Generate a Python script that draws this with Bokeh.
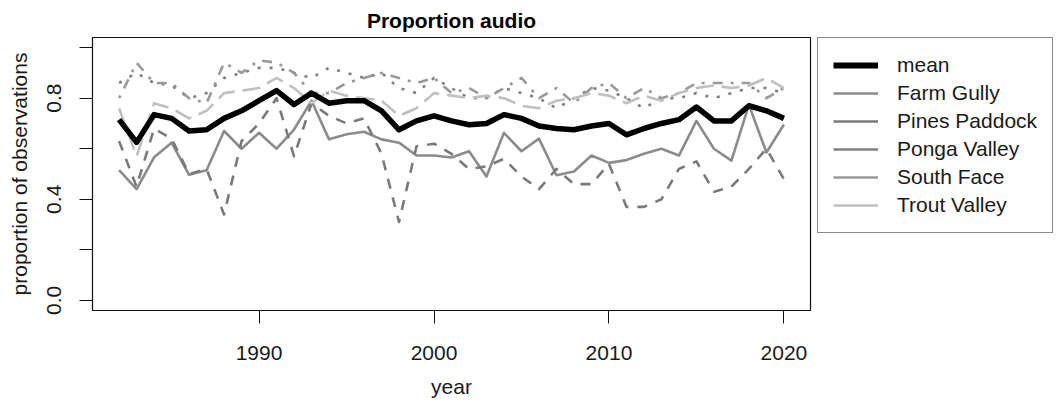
from bokeh.plotting import figure
from bokeh.layouts import row
from bokeh.models import Range1d, FixedTicker, Legend, LegendItem
from bokeh.embed import file_html
from bokeh.resources import INLINE

years = list(range(1982, 2021))

mean = [0.715, 0.625, 0.735, 0.72, 0.67, 0.675, 0.72, 0.75, 0.79, 0.83,
        0.775, 0.82, 0.78, 0.79, 0.79, 0.75, 0.675, 0.71, 0.73, 0.71,
        0.695, 0.70, 0.735, 0.72, 0.69, 0.68, 0.675, 0.69, 0.70, 0.655,
        0.68, 0.70, 0.715, 0.765, 0.71, 0.71, 0.77, 0.75, 0.72]

farm_gully = [0.515, 0.44, 0.566, 0.624, 0.497, 0.515, 0.67, 0.60, 0.663, 0.60,
              0.676, 0.79, 0.637, 0.657, 0.667, 0.637, 0.624, 0.573, 0.573, 0.565,
              0.59, 0.49, 0.663, 0.59, 0.64, 0.495, 0.51, 0.573, 0.544, 0.555,
              0.58, 0.60, 0.573, 0.71, 0.60, 0.553, 0.774, 0.585, 0.696]

pines_paddock = [0.63, 0.45, 0.68, 0.64, 0.50, 0.52, 0.34, 0.63, 0.70, 0.80,
                 0.57, 0.78, 0.73, 0.70, 0.72, 0.58, 0.31, 0.61, 0.62, 0.58,
                 0.52, 0.53, 0.56, 0.49, 0.44, 0.52, 0.46, 0.46, 0.54, 0.37,
                 0.37, 0.40, 0.52, 0.55, 0.43, 0.45, 0.52, 0.60, 0.48]

ponga_valley = [0.86, 0.90, 0.86, 0.85, 0.80, 0.82, 0.88, 0.90, 0.92, 0.92,
                0.90, 0.88, 0.92, 0.90, 0.88, 0.90, 0.84, 0.82, 0.88, 0.84,
                0.80, 0.80, 0.84, 0.82, 0.80, 0.76, 0.80, 0.84, 0.83, 0.80,
                0.76, 0.80, 0.80, 0.82, 0.80, 0.82, 0.84, 0.84, 0.82]

south_face = [0.80, 0.94, 0.86, 0.86, 0.80, 0.78, 0.94, 0.90, 0.95, 0.94,
              0.90, 0.82, 0.82, 0.86, 0.88, 0.90, 0.88, 0.86, 0.88, 0.82,
              0.84, 0.80, 0.84, 0.88, 0.80, 0.84, 0.78, 0.84, 0.86, 0.80,
              0.84, 0.80, 0.82, 0.86, 0.86, 0.86, 0.86, 0.80, 0.84]

trout_valley = [0.76, 0.57, 0.78, 0.76, 0.72, 0.75, 0.82, 0.83, 0.84, 0.88,
                0.84, 0.78, 0.83, 0.81, 0.80, 0.79, 0.73, 0.76, 0.82, 0.81,
                0.80, 0.81, 0.80, 0.77, 0.76, 0.79, 0.80, 0.82, 0.81, 0.78,
                0.81, 0.79, 0.82, 0.84, 0.85, 0.84, 0.85, 0.88, 0.84]

site_names = ["Farm Gully", "Pines Paddock", "Ponga Valley", "South Face", "Trout Valley"]
site_values = [farm_gully, pines_paddock, ponga_valley, south_face, trout_valley]
site_colors = ["#8c8c8c", "#7a7a7a", "#808080", "#9a9a9a", "#c0c0c0"]
site_dashes = ["solid", "10 9", "3 9", "3 8 10 8", "18 8"]

y_ticks = [0.0, 0.2, 0.4, 0.6, 0.8, 1.0]
y_tick_labels = ["0.0", "", "0.4", "", "0.8", ""]
x_ticks = [1990, 2000, 2010, 2020]

FONT = "Liberation Sans"
TXT = "#1a1a1a"

p = figure(width=812, height=404, output_backend="svg", toolbar_location=None,
           x_range=Range1d(1980.48, 2021.52), y_range=Range1d(-0.04, 1.04),
           min_border_left=92, min_border_right=2, min_border_top=34,
           min_border_bottom=94, title="Proportion audio")

p.background_fill_color = "white"
p.border_fill_color = "white"
p.xgrid.visible = False
p.ygrid.visible = False
p.outline_line_color = "#111111"
p.outline_line_width = 1.2

p.title.align = "center"
p.title.text_font = FONT
p.title.text_font_size = "21px"
p.title.text_font_style = "bold"
p.title.text_color = "#000000"
p.title.standoff = 12

for ax in (p.xaxis[0], p.yaxis[0]):
    ax.axis_line_color = None
    ax.major_tick_out = 13
    ax.major_tick_in = 0
    ax.major_tick_line_color = "#111111"
    ax.minor_tick_line_color = None
    ax.major_label_text_font = FONT
    ax.major_label_text_font_size = "21px"
    ax.major_label_text_color = TXT
    ax.axis_label_text_font = FONT
    ax.axis_label_text_font_size = "21px"
    ax.axis_label_text_font_style = "normal"
    ax.axis_label_text_color = TXT

p.xaxis.ticker = FixedTicker(ticks=x_ticks)
p.xaxis.axis_label = "year"
p.xaxis.major_label_standoff = 22
p.xaxis.axis_label_standoff = 12

p.yaxis.ticker = FixedTicker(ticks=y_ticks)
p.yaxis.major_label_overrides = {t: l for t, l in zip(y_ticks, y_tick_labels)}
p.yaxis.major_label_orientation = "vertical"
p.yaxis.axis_label = "proportion of observations"
p.yaxis.major_label_standoff = 18
p.yaxis.axis_label_standoff = 14

# site lines (drawn under the mean)
for vals, col, dash in zip(site_values, site_colors, site_dashes):
    p.line(years, vals, line_color=col, line_width=2.6, line_dash=dash, line_join="round")
p.line(years, mean, line_color="black", line_width=5.5, line_join="round")

# legend panel: separate figure, hidden solid copies of the series as legend samples
q = figure(width=244, height=404, output_backend="svg", toolbar_location=None,
           x_range=Range1d(1980.48, 2021.52), y_range=Range1d(-0.04, 1.04),
           min_border_left=5, min_border_right=2, min_border_top=31, min_border_bottom=0,
           x_axis_location=None, y_axis_location=None)
q.xgrid.visible = False
q.ygrid.visible = False
q.outline_line_color = None
q.background_fill_color = "white"
q.border_fill_color = "white"

items = []
r = q.line(years, mean, line_color="black", line_width=6, visible=False)
items.append(LegendItem(label="mean", renderers=[r]))
for name, vals, col in zip(site_names, site_values, site_colors):
    r = q.line(years, vals, line_color=col, line_width=2.6, visible=False)
    items.append(LegendItem(label=name, renderers=[r]))

legend = Legend(items=items, location="top_left", margin=0, padding=15, spacing=4,
                label_height=24, glyph_height=24, glyph_width=45, label_standoff=19,
                label_width=138, border_line_color="#111111", border_line_width=1.2,
                background_fill_color="white", background_fill_alpha=1.0,
                label_text_font=FONT, label_text_font_size="21px", label_text_color=TXT,
                click_policy="none")
q.add_layout(legend, "center")

layout = row(p, q, spacing=0)
open("out.html", "w").write(file_html(layout, INLINE))
